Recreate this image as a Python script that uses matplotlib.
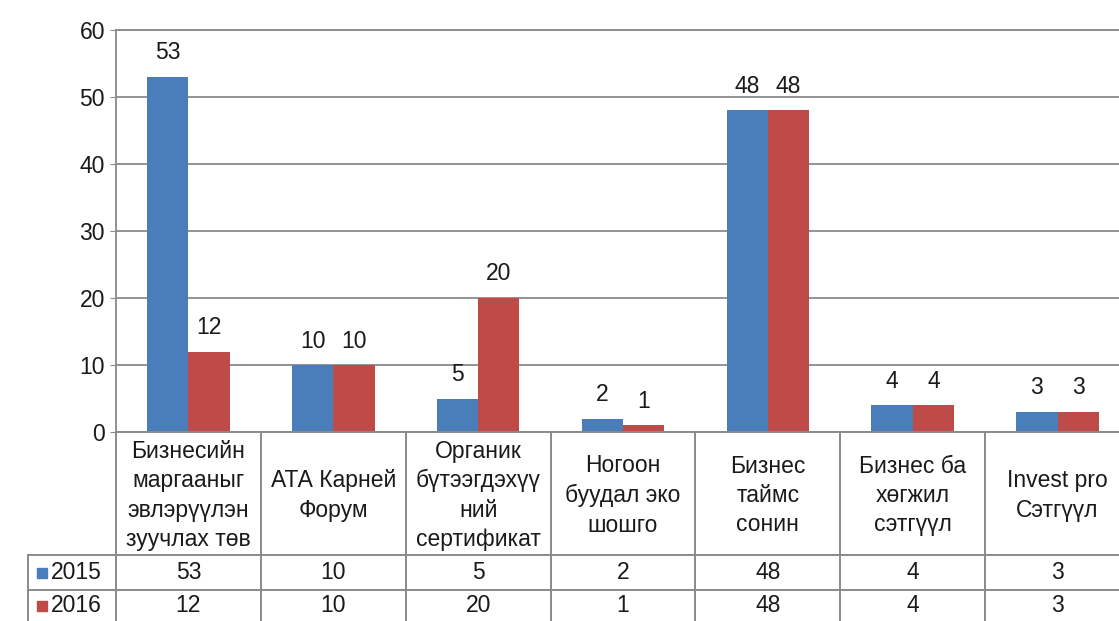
import matplotlib.pyplot as plt
import numpy as np

plt.rcParams['font.family'] = ['Liberation Sans', 'DejaVu Sans']

# данные
categories = [
    "Бизнесийн\nмаргааныг\nэвлэрүүлэн\nзуучлах төв",
    "АТА Карней\nФорум",
    "Органик\nбүтээгдэхүү\nний\nсертификат",
    "Ногоон\nбуудал эко\nшошго",
    "Бизнес\nтаймс\nсонин",
    "Бизнес ба\nхөгжил\nсэтгүүл",
    "Invest pro\nСэтгүүл",
]
years = ["2015", "2016"]
vals_2015 = [53, 10, 5, 2, 48, 4, 3]
vals_2016 = [12, 10, 20, 1, 48, 4, 3]
yticks = [0, 10, 20, 30, 40, 50, 60]

blue = "#4a7ebb"
red = "#be4b48"
grid_c = "#8a8a8a"
txt_c = "#1a1a1a"
fs = 16.5

W, H = 1119, 621
fig = plt.figure(figsize=(W / 100, H / 100), dpi=100)

# основная область графика (правый край обрезан, как на исходнике)
left_px, right_px, top_px, base_px = 116, 1130, 30, 432
ax = fig.add_axes([left_px / W, (H - base_px) / H,
                   (right_px - left_px) / W, (base_px - top_px) / H])

x = np.arange(len(categories))
bw = 0.285
b1 = ax.bar(x - bw / 2, vals_2015, bw, color=blue, zorder=3)
b2 = ax.bar(x + bw / 2, vals_2016, bw, color=red, zorder=3)
for bars in (b1, b2):
    for r in bars:
        ax.annotate(f"{int(r.get_height())}",
                    (r.get_x() + r.get_width() / 2, r.get_height()),
                    xytext=(0, 9), textcoords="offset points",
                    ha="center", va="bottom", fontsize=fs, color=txt_c)

ax.set_xlim(-0.5, len(categories) - 0.5)
ax.set_ylim(0, 60)
ax.set_yticks(yticks)
ax.tick_params(axis="y", labelsize=fs, length=4, color=grid_c, pad=4,
               labelcolor=txt_c)
ax.set_xticks([])
ax.yaxis.grid(True, color=grid_c, linewidth=1.3, zorder=0)
for s in ["bottom", "right"]:
    ax.spines[s].set_visible(False)
for s in ["left", "top"]:
    ax.spines[s].set_color(grid_c)
    ax.spines[s].set_linewidth(1.3)

# таблица данных под графиком
tb = fig.add_axes([left_px / W, 0, (right_px - left_px) / W, (H - base_px) / H])
tb.set_xlim(-0.5, len(categories) - 0.5)
tb.set_ylim(H, base_px)
tb.axis("off")

px = len(categories) / (right_px - left_px)
x_left = -0.5 + (28 - left_px) * px
row_y = [base_px, 555, 590, 625]
lw = 1.4
tb.plot([-0.5, 6.5], [row_y[0]] * 2, color=grid_c, lw=lw, clip_on=False)
for yy in row_y[1:3]:
    tb.plot([x_left, 6.5], [yy, yy], color=grid_c, lw=lw, clip_on=False)
for i in range(len(categories) + 1):
    tb.plot([i - 0.5] * 2, [row_y[0], H], color=grid_c, lw=lw, clip_on=False)
tb.plot([x_left] * 2, [row_y[1], H], color=grid_c, lw=lw, clip_on=False)

for i, c in enumerate(categories):
    tb.text(i, (row_y[0] + row_y[1]) / 2 + 2, c, ha="center", va="center",
            fontsize=fs, linespacing=1.36, color=txt_c)
    tb.text(i, (row_y[1] + row_y[2]) / 2, str(vals_2015[i]),
            ha="center", va="center", fontsize=fs, color=txt_c)
    tb.text(i, (row_y[2] + row_y[3]) / 2 - 2, str(vals_2016[i]),
            ha="center", va="center", fontsize=fs, color=txt_c)

for k, (yr, col) in enumerate(zip(years, [blue, red])):
    yc = (row_y[k + 1] + row_y[k + 2]) / 2 - (2 if k else 0)
    tb.plot([-0.5 + (42 - left_px) * px], [yc], marker="s", ms=7.5,
            color=col, clip_on=False, linestyle="none")
    tb.text(-0.5 + (51 - left_px) * px, yc, yr, ha="left", va="center",
            fontsize=fs, clip_on=False, color=txt_c)

fig.savefig("out.png", dpi=100)
